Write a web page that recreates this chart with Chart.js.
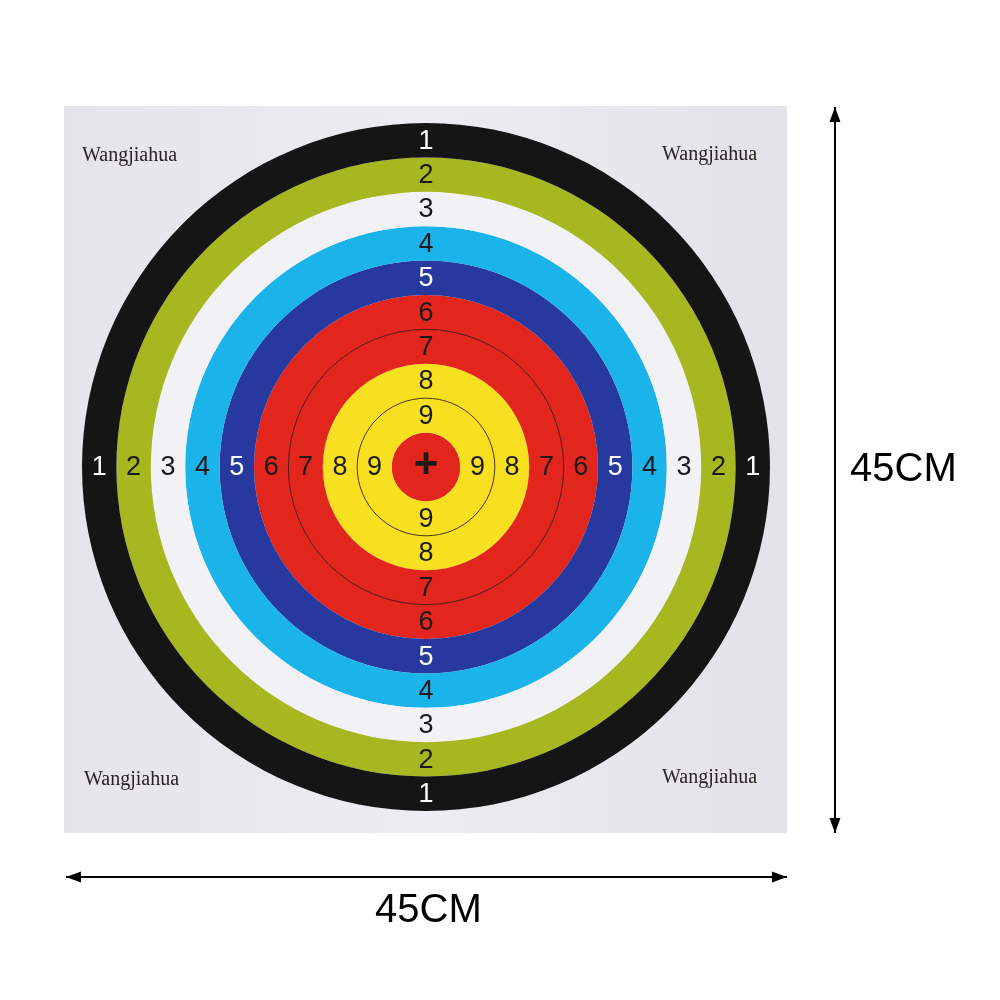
<!DOCTYPE html>
<html>
<head>
<meta charset="utf-8">
<script src="https://cdn.jsdelivr.net/npm/chart.js@4.4.0/dist/chart.umd.min.js"></script>
<style>
  html, body { margin: 0; padding: 0; background: #ffffff; }
  #target { display: block; }
</style>
</head>
<body>
<canvas id="target" width="1000" height="1000"></canvas>
<script>
// rings from the outside in, one dataset per ring
const ringScores = ['1', '2', '3', '4', '5', '6', '7', '8', '9', '+'];
const ringColors = ['#151515', '#a6b71f', '#f2f2f6', '#1bb4ea', '#27399f', '#e3261d', '#e3261d', '#f7e01f', '#f7e01f', '#e3261d'];
const numberColors = ['#ffffff', '#1a1a1a', '#1a1a1a', '#1a1a1a', '#ffffff', '#1a1a1a', '#1a1a1a', '#1a1a1a', '#1a1a1a', '#1a1a1a'];
const innerLine = [false, false, false, false, false, true, false, true, false, false];
const sizeLabels = ['45CM', '45CM'];
const brand = 'Wangjiahua';

const paper = { left: 64, top: 106, right: 787, bottom: 833 };

function arrow(ctx, x1, y1, x2, y2) {
    const a = Math.atan2(y2 - y1, x2 - x1);
    ctx.beginPath();
    ctx.moveTo(x1, y1);
    ctx.lineTo(x2, y2);
    ctx.stroke();
    [[x1, y1, a + Math.PI], [x2, y2, a]].forEach(([x, y, ang]) => {
        ctx.beginPath();
        ctx.moveTo(x, y);
        ctx.lineTo(x - 15 * Math.cos(ang) + 5.5 * Math.sin(ang), y - 15 * Math.sin(ang) - 5.5 * Math.cos(ang));
        ctx.lineTo(x - 15 * Math.cos(ang) - 5.5 * Math.sin(ang), y - 15 * Math.sin(ang) + 5.5 * Math.cos(ang));
        ctx.closePath();
        ctx.fill();
    });
}

const sheetPlugin = {
    id: 'sheet',
    beforeDraw(chart) {
        const ctx = chart.ctx;
        ctx.save();
        ctx.fillStyle = '#ffffff';
        ctx.fillRect(0, 0, chart.width, chart.height);
        const g = ctx.createLinearGradient(paper.left, 0, paper.right, 0);
        g.addColorStop(0, '#e4e4ea');
        g.addColorStop(0.5, '#ececf1');
        g.addColorStop(1, '#e2e2e8');
        ctx.fillStyle = g;
        ctx.fillRect(paper.left, paper.top, paper.right - paper.left, paper.bottom - paper.top);

        // brand marks in the corners
        ctx.fillStyle = '#2b2222';
        ctx.font = '20px "Liberation Serif", serif';
        ctx.textBaseline = 'middle';
        ctx.textAlign = 'left';
        ctx.fillText(brand, 82, 156);
        ctx.fillText(brand, 84, 780);
        ctx.fillText(brand, 662, 155);
        ctx.fillText(brand, 662, 778);

        // size arrows
        ctx.strokeStyle = '#000000';
        ctx.fillStyle = '#000000';
        ctx.lineWidth = 2;
        arrow(ctx, 835, 833, 835, 107);
        arrow(ctx, 787, 877, 66, 877);
        ctx.font = '40px "Liberation Sans", Arial, sans-serif';
        ctx.textAlign = 'left';
        ctx.fillText(sizeLabels[0], 850, 470);
        ctx.fillText(sizeLabels[1], 375, 911);
        ctx.restore();
    },
    afterDatasetsDraw(chart) {
        const ctx = chart.ctx;
        ctx.save();
        ctx.textAlign = 'center';
        ctx.textBaseline = 'middle';
        chart.data.datasets.forEach((ds, i) => {
            const arc = chart.getDatasetMeta(i).data[0];
            const { x, y, innerRadius, outerRadius } = arc.getProps(['x', 'y', 'innerRadius', 'outerRadius'], true);
            if (innerLine[i]) {
                ctx.strokeStyle = 'rgba(40,10,5,0.8)';
                ctx.lineWidth = 1;
                ctx.beginPath();
                ctx.arc(x, y, innerRadius, 0, Math.PI * 2);
                ctx.stroke();
            }
            ctx.fillStyle = numberColors[i];
            if (ringScores[i] === '+') {
                ctx.font = 'bold 42px "Liberation Sans", Arial, sans-serif';
                ctx.fillText(ringScores[i], x, y - 2);
                return;
            }
            const mid = (innerRadius + outerRadius) / 2;
            ctx.font = '27px "Liberation Sans", Arial, sans-serif';
            ctx.fillText(ringScores[i], x, y - mid + 1);
            ctx.fillText(ringScores[i], x, y + mid + 1);
            ctx.fillText(ringScores[i], x - mid, y + 1);
            ctx.fillText(ringScores[i], x + mid, y + 1);
        });
        ctx.restore();
    }
};

new Chart(document.getElementById('target'), {
    type: 'pie',
    data: {
        labels: ['ring'],
        datasets: ringScores.map((s, i) => ({
            label: s,
            data: [1],
            backgroundColor: ringColors[i],
            borderWidth: 0,
            hoverOffset: 0
        }))
    },
    options: {
        responsive: false,
        animation: false,
        devicePixelRatio: 1,
        layout: { padding: { left: 82, top: 123, right: 230, bottom: 189 } },
        plugins: {
            legend: { display: false },
            tooltip: { enabled: false }
        }
    },
    plugins: [sheetPlugin]
});
</script>
</body>
</html>
